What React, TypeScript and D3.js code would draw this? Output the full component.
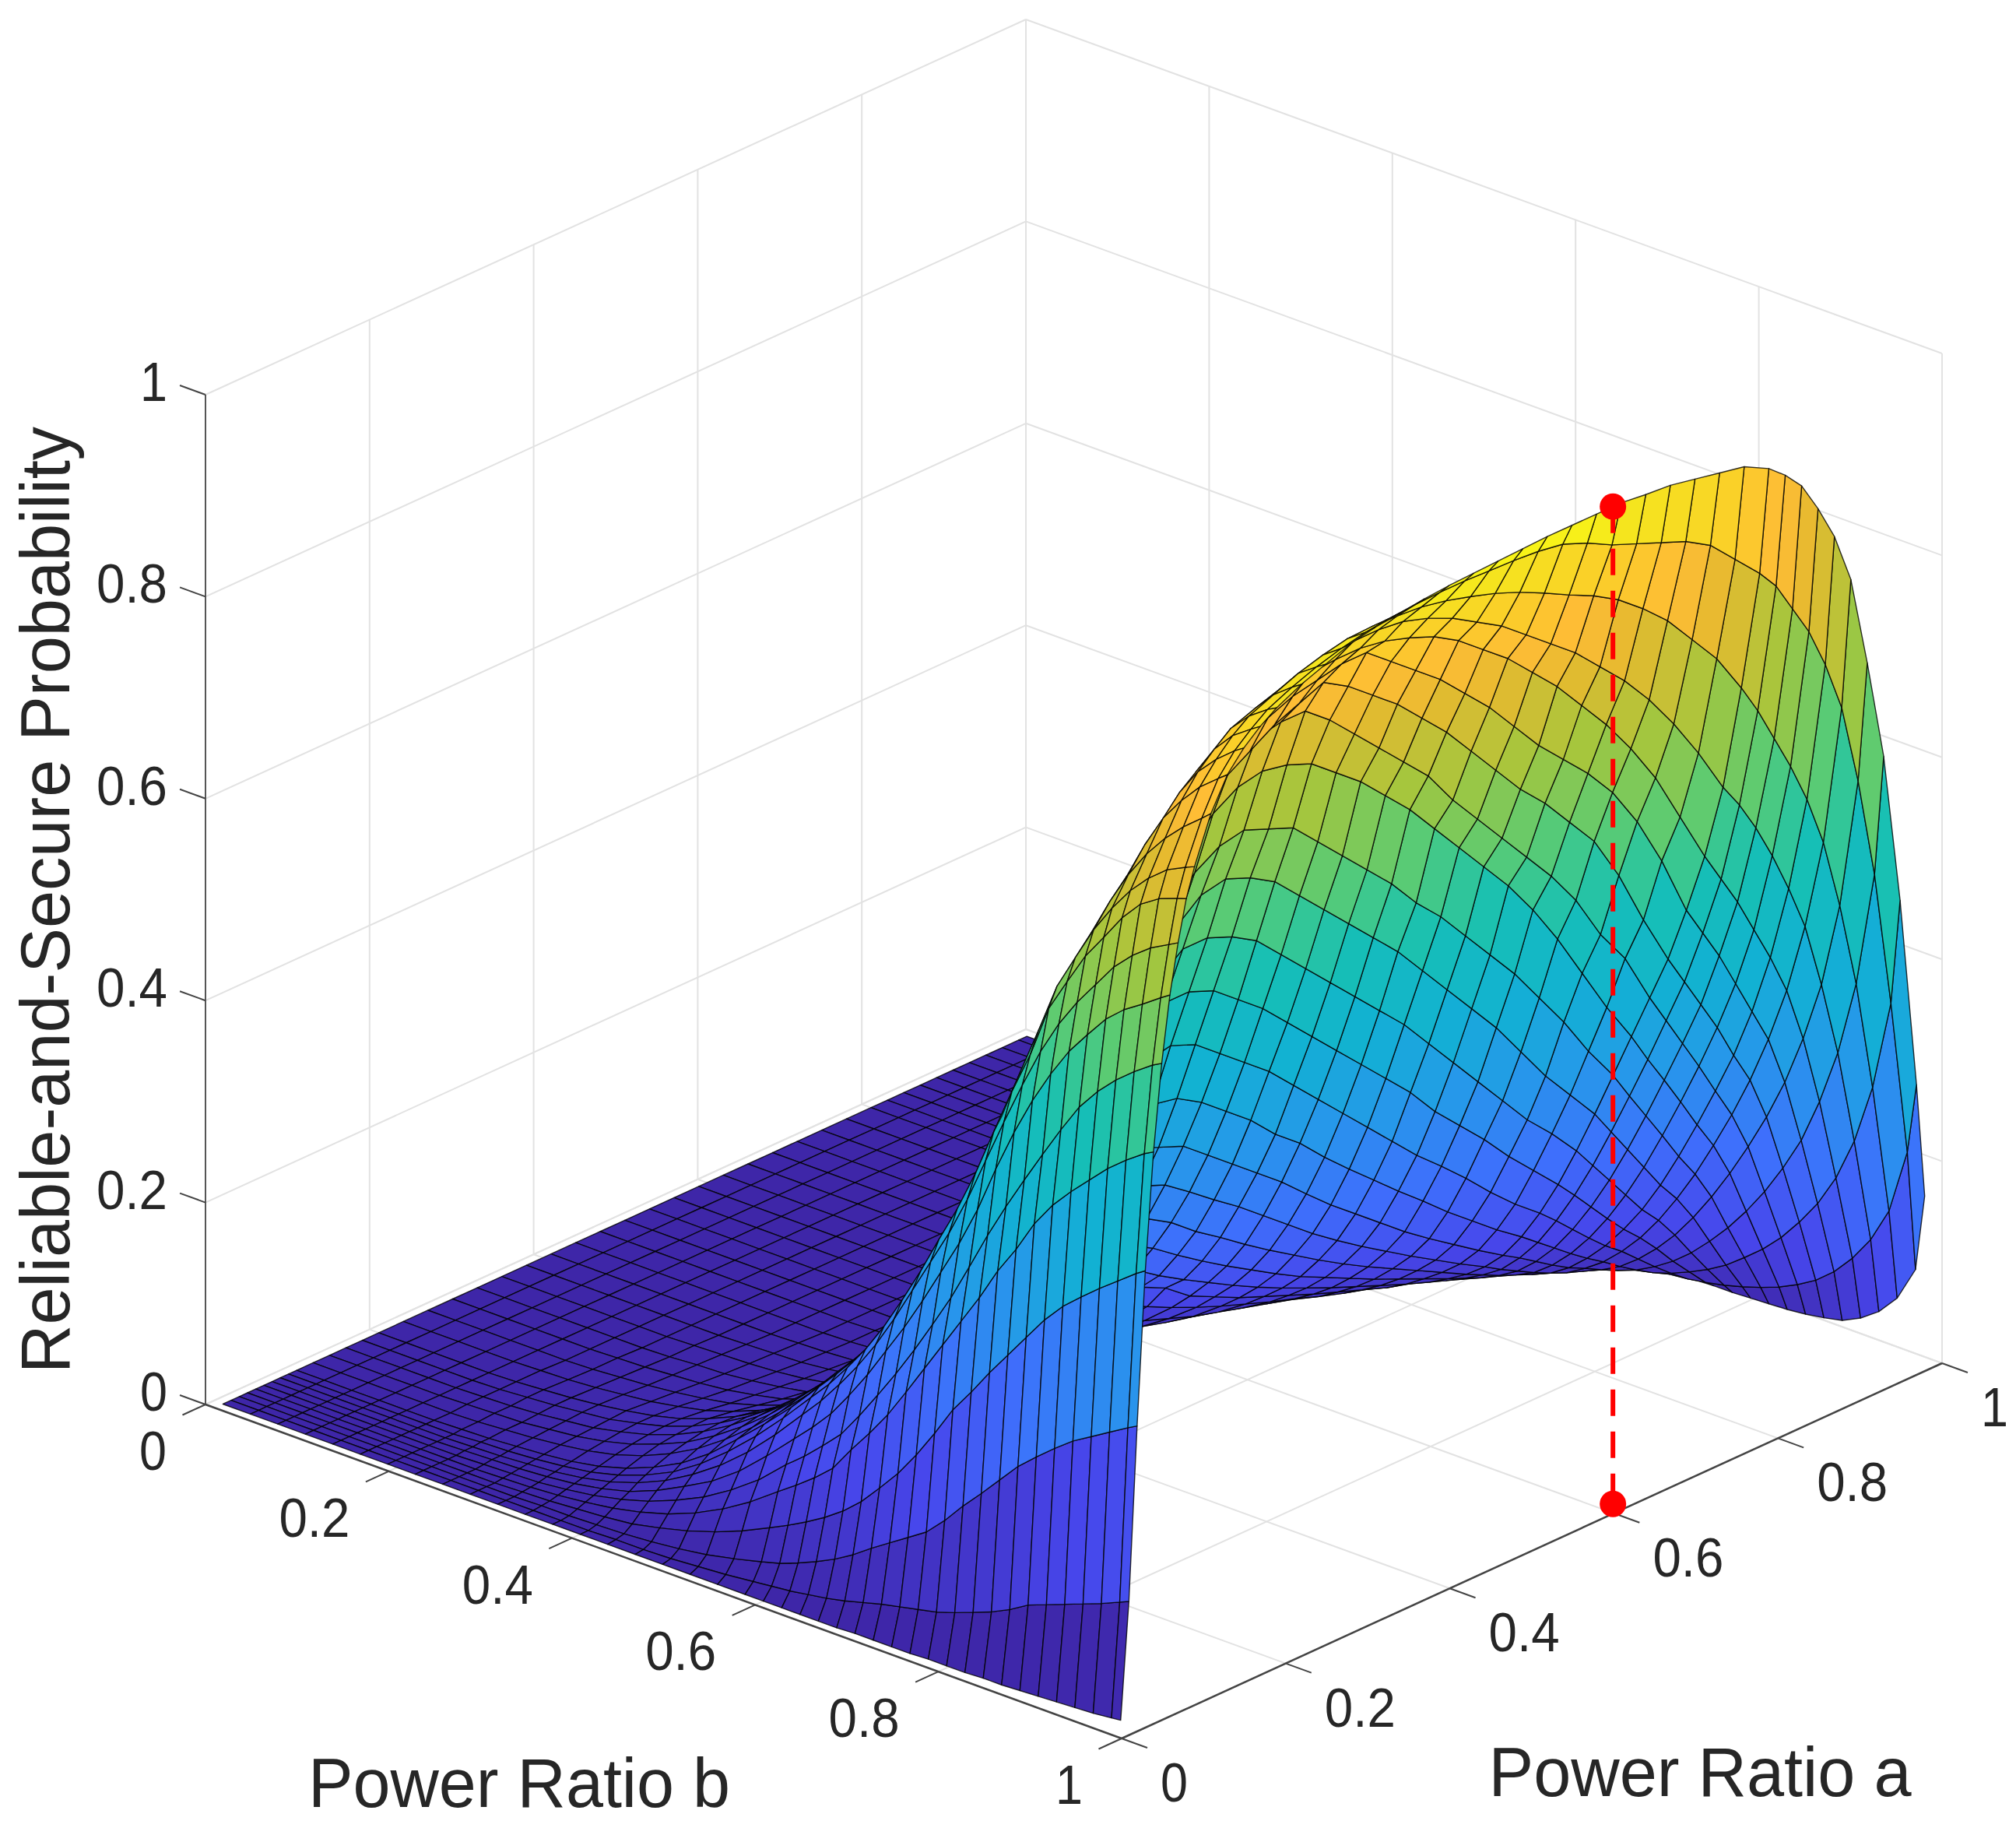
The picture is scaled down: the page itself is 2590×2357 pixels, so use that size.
import React, { useMemo } from 'react';
import * as d3 from 'd3';

const W = 2590;
const H = 2357;

const tickValues = [0, 0.2, 0.4, 0.6, 0.8, 1];
const tickLabels = ['0', '0.2', '0.4', '0.6', '0.8', '1'];

// surface samples
const aLow = [0.01, 0.02, 0.03, 0.04, 0.05, 0.06, 0.07, 0.08, 0.09, 0.1, 0.12, 0.14, 0.16, 0.18];
const aHigh = [0.2, 0.23, 0.26, 0.29, 0.32, 0.35, 0.38, 0.41, 0.44, 0.47, 0.5, 0.53, 0.56, 0.59, 0.62, 0.65, 0.68, 0.71, 0.74, 0.77, 0.8, 0.82, 0.84, 0.86, 0.88, 0.9, 0.92, 0.94, 0.96, 0.98, 0.99];
const bValues = [0.01, 0.04, 0.07, 0.1, 0.13, 0.16, 0.19, 0.22, 0.25, 0.28, 0.31, 0.34, 0.37, 0.4, 0.43, 0.46, 0.49, 0.52, 0.55, 0.58, 0.6, 0.62, 0.64, 0.66, 0.68, 0.7, 0.72, 0.74, 0.76, 0.78, 0.8, 0.82, 0.84, 0.86, 0.88, 0.9, 0.92, 0.94, 0.96, 0.98, 0.99];

// probability x 1000: steep part, one row per a in aLow, one column per b
const zLowRows = [
  [0,0,0,0,0,0,0,0,0,0,0,0,0,0,0,0,0,0,0,0, 0,0,0,0,0,1,1,1,1,2,2,2,3,3,4,5,6,7,8,10,11],
  [0,0,0,0,0,0,0,0,0,0,0,0,0,0,1,1,2,4,6,9, 11,13,16,19,23,28,33,37,41,45,51,58,65,74,85,92,99,106,113,121,125],
  [0,0,0,0,0,0,0,0,0,0,0,1,1,2,3,5,8,12,18,25, 30,37,45,54,65,78,90,102,114,132,153,172,192,212,228,243,257,268,279,290,295],
  [0,0,0,0,0,0,0,0,0,0,1,2,4,6,9,15,22,31,42,55, 64,74,85,98,114,134,155,180,208,238,262,288,312,336,360,380,396,411,425,439,445],
  [0,0,0,0,0,0,0,0,0,1,2,4,7,11,17,25,36,50,67,87, 100,114,130,155,178,203,232,262,292,322,352,385,413,445,470,490,508,526,541,554,559],
  [0,0,0,0,0,0,0,0,1,2,3,6,10,16,24,35,48,65,85,110, 125,142,160,185,212,240,270,302,335,372,410,445,478,510,541,570,592,610,625,638,643],
  [0,0,0,0,0,0,0,1,2,3,5,8,13,20,31,45,60,80,105,132, 150,170,195,222,252,282,315,350,385,425,472,515,553,586,615,638,660,676,688,701,707],
  [0,0,0,0,0,0,0,1,2,4,6,10,16,25,37,53,72,95,122,152, 172,195,220,248,280,315,350,385,425,470,515,558,598,632,660,684,708,726,740,750,755],
  [0,0,0,0,0,0,0,2,3,5,8,12,19,29,42,60,82,107,135,165, 185,208,233,262,295,330,368,405,447,495,542,585,637,670,702,727,753,773,785,792,795],
  [0,0,0,0,0,0,1,2,4,6,9,14,22,33,47,66,90,115,142,172, 192,213,236,265,300,337,375,412,458,507,557,605,655,690,724,752,776,795,810,819,823],
  [0,0,0,0,0,0,1,3,5,8,12,18,27,39,54,73,95,120,147,178, 198,220,244,272,305,340,378,418,462,510,560,612,665,708,745,778,805,827,845,860,868],
  [0,0,0,0,0,1,2,3,6,9,14,21,31,43,59,78,100,125,152,182, 202,224,248,275,306,342,380,420,465,512,562,615,668,718,762,800,833,857,877,892,899],
  [0,0,0,0,0,1,2,4,7,10,16,23,33,46,62,81,103,128,155,185, 205,227,250,277,308,343,381,421,466,514,565,618,672,724,772,815,851,878,897,912,918],
  [0,0,0,0,0,1,3,5,8,11,17,24,34,47,63,82,104,128,155,184, 203,225,248,275,306,341,379,419,463,511,562,616,672,726,778,824,864,893,913,926,932],
];

// probability x 1000: the rest, one column per b, one entry per a in aHigh, missing entries are zero
const zHighColumns = [
  [], [], [], [], [],
  [1,1],
  [3,2,1,1],
  [5,4,3,2,1,1],
  [8,7,5,4,3,2,1],
  [12,10,8,6,4,3,2,1],
  [17,15,12,9,7,5,3,2,1,1],
  [24,21,17,14,11,8,6,4,3,2,1],
  [34,30,25,20,16,13,10,7,5,3,2,1,1],
  [46,41,35,30,25,21,18,15,12,9,6,4,3,2,1],
  [61,55,48,42,37,32,28,24,20,16,13,10,7,5,3,2,1],
  [80,72,64,57,51,46,42,38,33,28,24,20,16,12,9,6,4,2,1],
  [101,92,83,75,69,64,60,56,50,44,38,32,27,24,19,12,8,5,3,2,1],
  [125,115,105,97,91,87,83,79,72,64,56,48,41,34,28,22,17,12,8,5,3,2,1,1],
  [151,140,130,122,117,115,112,107,98,88,78,68,59,50,43,36,29,22,16,11,7,5,3,2,1],
  [180,168,157,150,146,145,142,136,127,115,103,91,80,70,61,52,44,35,27,20,14,10,7,5,3,1],
  [199,187,178,172,168,168,166,160,150,140,128,109,97,85,75,65,55,46,37,28,21,16,12,8,5,3,1],
  [220,210,203,198,196,196,194,187,175,158,143,129,115,102,90,79,68,58,48,38,29,23,17,13,9,6,3,1],
  [243,236,230,228,228,228,225,217,203,185,168,152,137,122,108,96,84,72,61,50,39,32,25,19,14,10,6,3,1],
  [270,265,262,262,265,265,262,250,235,215,198,180,163,147,131,116,102,89,76,63,50,42,34,27,20,14,9,5,3],
  [300,297,298,300,305,305,300,290,272,253,235,215,195,175,157,140,124,108,93,78,64,54,45,36,28,21,15,9,5,1],
  [336,335,340,350,355,355,345,335,315,295,275,255,232,210,190,170,150,132,115,98,82,72,61,50,40,32,23,15,8,2,0],
  [374,375,385,400,410,405,400,385,365,345,320,300,275,252,230,208,187,165,145,125,107,94,81,68,56,45,33,22,12,3,0],
  [414,420,435,450,465,470,460,440,420,400,375,350,325,300,275,250,228,205,180,157,137,122,106,90,75,62,47,32,18,5,0],
  [458,470,485,510,530,530,520,500,480,455,430,405,380,355,330,300,275,250,222,197,172,154,135,116,98,82,64,44,26,8,1],
  [510,525,545,570,590,590,580,565,540,515,490,465,440,415,385,355,325,295,265,240,212,190,168,146,124,106,84,59,35,12,1],
  [565,580,605,630,650,655,645,630,605,580,555,530,505,475,445,415,385,350,315,285,255,230,205,180,155,134,108,77,46,17,2],
  [620,640,665,690,705,710,700,690,665,640,615,590,560,535,505,475,445,410,375,335,300,272,245,218,190,165,135,97,60,23,3],
  [676,700,730,755,770,775,770,760,740,720,695,670,640,610,580,550,515,475,430,385,345,315,287,258,228,200,165,120,75,30,4],
  [730,755,785,810,825,830,830,810,785,760,735,710,675,645,615,585,555,520,475,440,390,360,330,300,268,237,198,146,93,39,6],
  [784,800,815,830,845,855,865,850,830,810,785,760,730,700,670,645,615,585,540,485,435,405,375,345,310,278,234,176,115,50,9],
  [832,845,858,870,880,885,890,890,870,850,830,805,780,750,720,695,670,640,600,550,490,460,430,395,360,325,275,210,140,65,13],
  [876,885,895,903,910,912,912,908,900,890,875,855,835,810,785,755,725,690,650,600,550,520,490,455,420,380,325,255,172,85,22],
  [906,915,923,930,935,937,937,934,926,915,900,885,865,845,825,800,775,745,710,670,625,600,570,535,495,450,385,310,215,110,35],
  [925,935,945,952,957,958,957,955,950,943,935,925,913,900,888,873,853,830,800,770,730,700,665,630,590,540,470,385,275,145,55],
  [938,949,958,965,970,973,975,976,976,975,974,972,968,958,945,935,925,915,900,875,850,830,800,770,730,680,600,500,365,210,90],
  [943,955,964,973,978,981,984,986,987,988,989,990,990,990,990,987,985,980,975,970,957,943,925,895,860,810,720,620,470,280,166],
];

const aValues = [...aLow, ...aHigh];
const zRows = [
  ...zLowRows,
  ...aHigh.map((_, i) => bValues.map((_, j) => zHighColumns[j][i] ?? 0)),
];

// optimum marked in red
const optimum = { a: 0.61, b: 0.99, z: 0.99 };

const parulaStops = [0, 0.1, 0.2, 0.3, 0.4, 0.5, 0.55, 0.6, 0.7, 0.8, 0.85, 0.9, 0.95, 1];
const parulaColors = ['#3e26a8', '#4746eb', '#3e6ffc', '#2797eb', '#12b1d3', '#16bfb6', '#35c795', '#5ccb72', '#a5c63d', '#e5ba2f', '#febc36', '#fbcd2a', '#f5e31f', '#f9fb15'];

const bx = d3.scaleLinear().domain([0, 1]).range([0, 1177]);
const by = d3.scaleLinear().domain([0, 1]).range([0, 429]);
const ax = d3.scaleLinear().domain([0, 1]).range([0, 1054]);
const ay = d3.scaleLinear().domain([0, 1]).range([0, -482]);
const zy = d3.scaleLinear().domain([0, 1]).range([0, -1297]);
const color = d3.scaleLinear<string>().domain(parulaStops).range(parulaColors).interpolate(d3.interpolateRgb);

const project = (a: number, b: number, z: number): [number, number] => [
  264 + bx(b) + ax(a),
  1804 + by(b) + ay(a) + zy(z),
];
// larger means closer to the viewer
const depth = (a: number, b: number, z: number) => 964 * b - 1083 * a + 577 * z;

const font = '"Liberation Sans", Arial, sans-serif';
const ink = '#262626';
const gridColor = '#e2e2e2';
const linePath = d3.line();

function seg(p: [number, number], q: [number, number], stroke: string, width: number, key: string) {
  return <line key={key} x1={p[0]} y1={p[1]} x2={q[0]} y2={q[1]} stroke={stroke} strokeWidth={width} />;
}

function TickText({ x, y, anchor, label }: { x: number; y: number; anchor: string; label: string }) {
  return (
    <text x={x} y={y} textAnchor={anchor} dominantBaseline="central" fontFamily={font} fontSize={70} fill={ink}
      textLength={label.length === 1 ? 35 : 91} lengthAdjust="spacingAndGlyphs">
      {label}
    </text>
  );
}

export default function App() {
  const cells = useMemo(() => {
    const out: { d: string; fill: string; depth: number }[] = [];
    for (let i = 0; i < aValues.length - 1; i++) {
      for (let j = 0; j < bValues.length - 1; j++) {
        const corners: [number, number][] = [[i, j], [i + 1, j], [i + 1, j + 1], [i, j + 1]];
        const zs = corners.map(([r, c]) => zRows[r][c] / 1000);
        const pts = corners.map(([r, c], k) => project(aValues[r], bValues[c], zs[k]));
        const ca = (aValues[i] + aValues[i + 1]) / 2;
        const cb = (bValues[j] + bValues[j + 1]) / 2;
        out.push({
          d: linePath(pts) + 'Z',
          fill: color(zs[0] / 0.99),
          depth: depth(ca, cb, d3.mean(zs) as number),
        });
      }
    }
    return out.sort((p, q) => p.depth - q.depth);
  }, []);

  const top = project(optimum.a, optimum.b, optimum.z);
  const foot = project(optimum.a, optimum.b, 0);

  return (
    <svg width={W} height={H} style={{ position: 'absolute', left: 0, top: 0, background: '#fff' }}>
      {/* walls and floor */}
      <g>
        {tickValues.map((t, i) => (
          <g key={i}>
            {seg(project(0, 0, t), project(1, 0, t), gridColor, 2, 'zl')}
            {seg(project(1, 0, t), project(1, 1, t), gridColor, 2, 'zr')}
            {seg(project(t, 0, 0), project(t, 0, 1), gridColor, 2, 'av')}
            {seg(project(1, t, 0), project(1, t, 1), gridColor, 2, 'bv')}
            {seg(project(t, 0, 0), project(t, 1, 0), gridColor, 2, 'af')}
            {seg(project(0, t, 0), project(1, t, 0), gridColor, 2, 'bf')}
          </g>
        ))}
      </g>

      {/* axes */}
      <g>
        {seg(project(0, 0, 0), project(0, 0, 1), ink, 1.5, 'zaxis')}
        {seg(project(0, 0, 0), project(0, 1, 0), '#444', 2.5, 'baxis')}
        {seg(project(0, 1, 0), project(1, 1, 0), '#444', 2.5, 'aaxis')}
        {tickValues.map((t, i) => {
          const pz = project(0, 0, t);
          const pb = project(0, t, 0);
          const pa = project(t, 1, 0);
          return (
            <g key={i}>
              {seg(pz, project(0, -0.028, t), '#444', 2, 'tz')}
              {seg(pb, project(-0.028, t, 0), '#444', 2, 'tb')}
              {seg(pa, project(t, 1.028, 0), '#444', 2, 'ta')}
              <TickText x={pz[0] - 49} y={pz[1] - 16} anchor="end" label={tickLabels[i]} />
              <TickText x={pb[0] - 50} y={pb[1] + 60} anchor="end" label={tickLabels[i]} />
              <TickText x={pa[0] + 50} y={pa[1] + 57} anchor="start" label={tickLabels[i]} />
            </g>
          );
        })}
      </g>

      {/* surface, far cells first */}
      <g>
        {cells.map((c, i) => (
          <path key={i} d={c.d} fill={c.fill} stroke="#000" strokeOpacity={0.8} strokeWidth={1.4} strokeLinejoin="round" />
        ))}
      </g>

      {/* optimum */}
      <line x1={top[0]} y1={top[1]} x2={foot[0]} y2={foot[1]} stroke="#ff0000" strokeWidth={6} strokeDasharray="34 20" />
      <circle cx={top[0]} cy={top[1]} r={17} fill="#ff0000" />
      <circle cx={foot[0]} cy={foot[1] - 3} r={17} fill="#ff0000" />

      {/* titles */}
      <text x={667} y={2290} textAnchor="middle" dominantBaseline="central" fontFamily={font} fontSize={89} fill={ink} textLength={542} lengthAdjust="spacingAndGlyphs">Power Ratio b</text>
      <text x={2184} y={2276} textAnchor="middle" dominantBaseline="central" fontFamily={font} fontSize={89} fill={ink} textLength={543} lengthAdjust="spacingAndGlyphs">Power Ratio a</text>
      <text transform="translate(58,1156) rotate(-90)" textAnchor="middle" dominantBaseline="central" fontFamily={font} fontSize={89} fill={ink} textLength={1216} lengthAdjust="spacingAndGlyphs">Reliable-and-Secure Probability</text>
    </svg>
  );
}
